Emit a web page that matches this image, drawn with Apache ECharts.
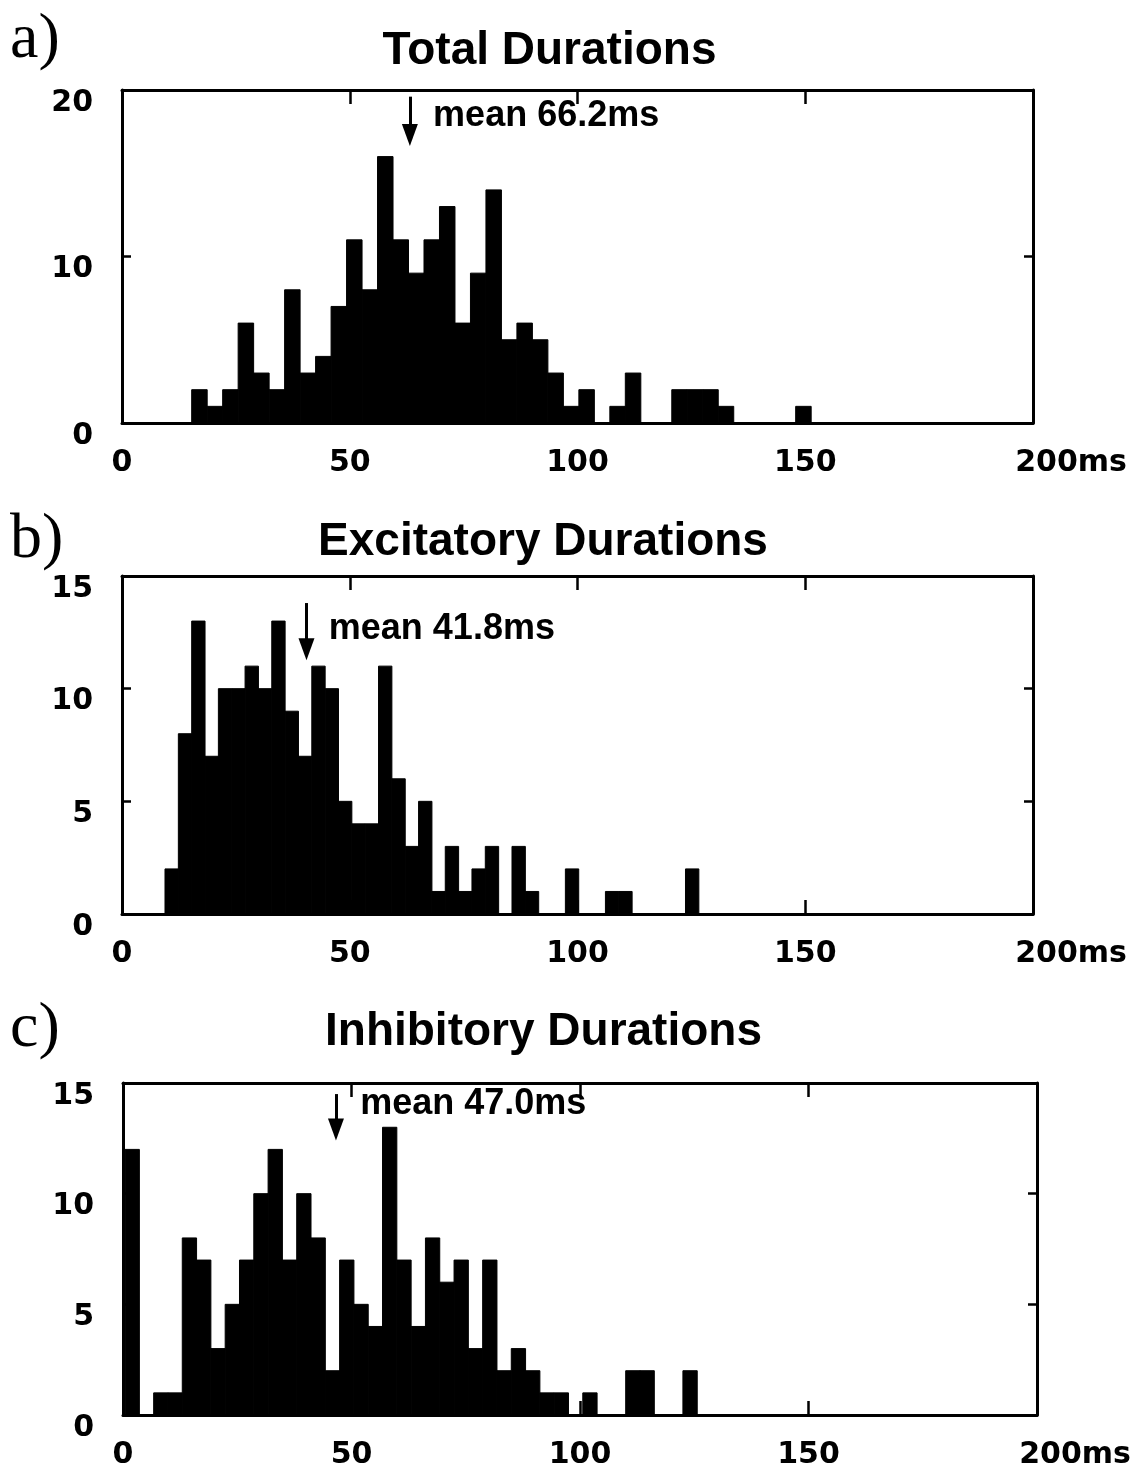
<!DOCTYPE html>
<html><head><meta charset="utf-8">
<script src="https://cdn.jsdelivr.net/npm/echarts@6/dist/echarts.min.js"></script>
<style>html,body{margin:0;padding:0;background:#fff}#c{width:1139px;height:1470px}</style>
</head><body><div id="c"></div>
<script>
// ---- data ----
const panelLetters = ['a)', 'b)', 'c)'];
const titles = ['Total Durations', 'Excitatory Durations', 'Inhibitory Durations'];
const meanLabels = ['mean 66.2ms', 'mean 41.8ms', 'mean 47.0ms'];
const xUnit = 'ms';
const yMax = [20, 15, 15];
const yStep = [10, 5, 5];
// histogram bins: first bin edge (ms) and bin width (ms), 40 bins each
const binStart = [15.3, 9.44, 0.45];
const binWidth = [3.4, 2.93, 3.13];
const totalCounts = [2,1,2,6,3,2,8,3,4,7, 11,8,16,11,9,11,13,6,9,14, 5,6,5,3,1,2,0,1,3,0, 0,2,2,2,1,0,0,0,0,1];
const excitatoryCounts = [2,8,13,7,10,10,11,10,13,9, 7,11,10,5,4,4,11,6,3,5, 1,3,1,2,3,0,3,1,0,0, 2,0,0,1,1,0,0,0,0,2];
const inhibitoryCounts = [12,0,1,1,8,7,3,5,7,10, 12,7,10,8,2,7,5,4,13,7, 4,8,6,7,3,7,2,3,2,1, 1,0,1,0,0,2,2,0,0,2];
// mean arrows (data units): x, top of shaft, arrow tip; label anchor [x, y]
const arrowX = [63.2, 40.5, 46.6];
const arrowTop = [19.6, 13.8, 14.5];
const arrowTip = [16.7, 11.3, 12.45];
const labelAnchor = [[68.3, 18.45], [45.4, 12.66], [51.9, 14.05]];

// ---- layout / style ----
const countsList = [totalCounts, excitatoryCounts, inhibitoryCounts];
const grids = [
  {left: 122, top: 90, width: 911, height: 333},
  {left: 122, top: 576, width: 911, height: 338},
  {left: 123, top: 1083, width: 914, height: 335}
];
const titleY = [51, 542.5, 1032.5];
const titleX = [549.5, 543, 543.5];
const letterY = [40, 540, 1029];
const tickFont = 'DejaVu Sans';
const black = '#000';

const xAxes = [], yAxes = [], series = [], graphics = [];
grids.forEach((g, i) => {
  const lineStyle = {color: black, width: 3};
  const tickStyle = {color: black, width: 2.5};
  ['bottom', 'top'].forEach(pos => {
    xAxes.push({
      type: 'value', gridIndex: i, position: pos, min: 0, max: 200, interval: 50,
      axisLine: {show: true, onZero: false, lineStyle},
      axisTick: {show: true, inside: true, length: 14, lineStyle: tickStyle},
      splitLine: {show: false},
      axisLabel: pos === 'top' ? {show: false} : {
        show: true, margin: 25, color: black, fontFamily: tickFont, fontWeight: 'bold', fontSize: 30,
        formatter: v => v === 200 ? '{m|' + v + xUnit + '}' : String(v),
        rich: {m: {padding: [0, 0, 0, 76], fontFamily: tickFont, fontWeight: 'bold', fontSize: 30, color: black}}
      }
    });
  });
  ['left', 'right'].forEach(pos => {
    yAxes.push({
      type: 'value', gridIndex: i, position: pos, min: 0, max: yMax[i], interval: yStep[i],
      axisLine: {show: true, onZero: false, lineStyle},
      axisTick: {show: true, inside: true, length: 9, lineStyle: tickStyle},
      splitLine: {show: false},
      axisLabel: pos === 'right' ? {show: false} : {
        show: true, margin: 29, color: black, fontFamily: tickFont, fontWeight: 'bold', fontSize: 30,
        verticalAlign: 'top', lineHeight: 26
      }
    });
  });
  const data = countsList[i].map((c, k) => [binStart[i] + k * binWidth[i], binStart[i] + (k + 1) * binWidth[i], c]);
  const tipPx = 10; // keep arrowhead tip at arrowTip
  series.push({
    type: 'custom', xAxisIndex: i * 2, yAxisIndex: i * 2, data,
    encode: {x: [0, 1], y: 2},
    renderItem: (params, api) => {
      if (!api.value(2)) return null;
      const p0 = api.coord([api.value(0), 0]);
      const p1 = api.coord([api.value(1), api.value(2)]);
      return {type: 'rect', shape: {x: p0[0], y: p1[1], width: p1[0] - p0[0], height: p0[1] - p1[1]},
        style: {fill: black, stroke: black, lineWidth: 1}};
    },
    markLine: {
      silent: true, animation: false,
      symbol: ['none', 'triangle'], symbolSize: [16, 22],
      label: {show: false},
      lineStyle: {color: black, width: 3, type: 'solid'},
      data: [[{coord: [arrowX[i], arrowTop[i]]},
              {coord: [arrowX[i], arrowTip[i] + tipPx * yMax[i] / g.height]}]]
    },
    markPoint: {
      silent: true, animation: false, symbol: 'circle', symbolSize: 0,
      label: {show: true, position: 'right', distance: 0, formatter: meanLabels[i],
        fontFamily: 'Liberation Sans', fontWeight: 'bold', fontSize: 36, color: black},
      data: [{coord: labelAnchor[i]}]
    }
  });
  graphics.push({type: 'text', x: titleX[i], y: titleY[i],
    style: {text: titles[i], font: 'bold 46px "Liberation Sans"', fill: black,
      align: 'center', verticalAlign: 'middle', textAlign: 'center', textVerticalAlign: 'middle'}});
  graphics.push({type: 'text', x: 10, y: letterY[i],
    style: {text: panelLetters[i], font: '64px "Liberation Serif"', fill: black,
      align: 'left', verticalAlign: 'middle', textAlign: 'left', textVerticalAlign: 'middle'}});
});

const chart = echarts.init(document.getElementById('c'), null, {renderer: 'canvas'});
chart.setOption({
  animation: false,
  backgroundColor: '#fff',
  grid: grids,
  xAxis: xAxes,
  yAxis: yAxes,
  series,
  graphic: graphics
});
</script></body></html>
